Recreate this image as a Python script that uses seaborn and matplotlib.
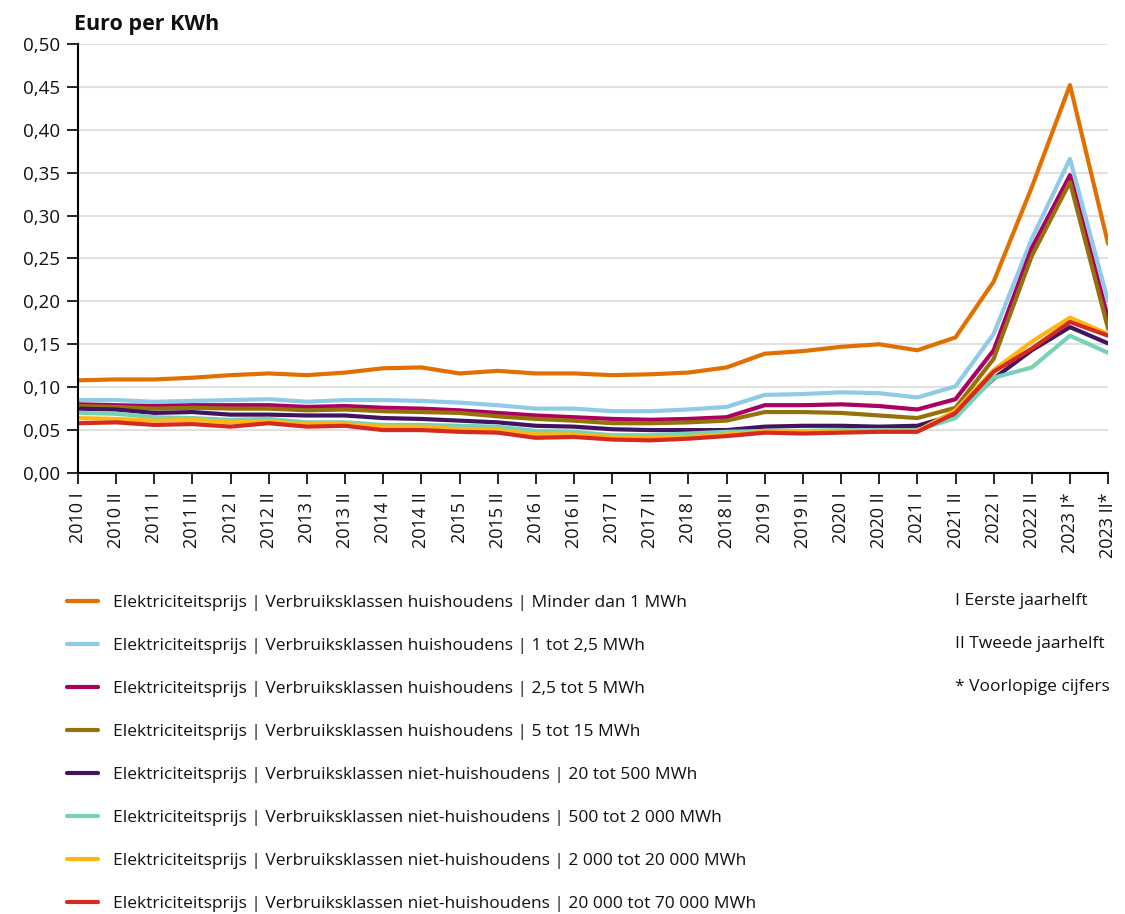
import matplotlib
matplotlib.use("Agg")
import matplotlib.pyplot as plt
import seaborn as sns
import numpy as np
import pandas as pd

sns.set_theme(style="white")
plt.rcParams["font.family"] = ["Open Sans", "DejaVu Sans"]
plt.rcParams["text.color"] = "#111111"
plt.rcParams["xtick.color"] = "#111111"
plt.rcParams["ytick.color"] = "#111111"

periods = ["2010 I", "2010 II", "2011 I", "2011 II", "2012 I", "2012 II", "2013 I", "2013 II",
           "2014 I", "2014 II", "2015 I", "2015 II", "2016 I", "2016 II", "2017 I", "2017 II",
           "2018 I", "2018 II", "2019 I", "2019 II", "2020 I", "2020 II", "2021 I", "2021 II",
           "2022 I", "2022 II", "2023 I*", "2023 II*"]

prefix_h = "Elektriciteitsprijs | Verbruiksklassen huishoudens | "
prefix_n = "Elektriciteitsprijs | Verbruiksklassen niet-huishoudens | "
series_names = [prefix_h + "Minder dan 1 MWh",
                prefix_h + "1 tot 2,5 MWh",
                prefix_h + "2,5 tot 5 MWh",
                prefix_h + "5 tot 15 MWh",
                prefix_n + "20 tot 500 MWh",
                prefix_n + "500 tot 2 000 MWh",
                prefix_n + "2 000 tot 20 000 MWh",
                prefix_n + "20 000 tot 70 000 MWh"]

minder_1 = [0.108, 0.109, 0.109, 0.111, 0.114, 0.116, 0.114, 0.117, 0.122, 0.123, 0.116, 0.119, 0.116, 0.116,
            0.114, 0.115, 0.117, 0.123, 0.139, 0.142, 0.147, 0.150, 0.143, 0.158, 0.223, 0.333, 0.452, 0.267]
tot_2_5 = [0.085, 0.085, 0.083, 0.084, 0.085, 0.086, 0.083, 0.085, 0.085, 0.084, 0.082, 0.079, 0.075, 0.075,
           0.072, 0.072, 0.074, 0.077, 0.091, 0.092, 0.094, 0.093, 0.088, 0.101, 0.162, 0.273, 0.366, 0.200]
tot_5 = [0.080, 0.079, 0.078, 0.079, 0.079, 0.079, 0.077, 0.078, 0.076, 0.075, 0.073, 0.070, 0.067, 0.065,
         0.063, 0.062, 0.063, 0.065, 0.079, 0.079, 0.080, 0.078, 0.074, 0.086, 0.143, 0.262, 0.347, 0.180]
tot_15 = [0.078, 0.077, 0.075, 0.076, 0.075, 0.075, 0.073, 0.074, 0.072, 0.071, 0.070, 0.066, 0.063, 0.061,
          0.058, 0.058, 0.059, 0.061, 0.071, 0.071, 0.070, 0.067, 0.064, 0.076, 0.133, 0.253, 0.339, 0.168]
tot_500 = [0.075, 0.074, 0.070, 0.071, 0.068, 0.068, 0.067, 0.067, 0.064, 0.063, 0.061, 0.059, 0.055, 0.054,
           0.051, 0.050, 0.050, 0.050, 0.054, 0.055, 0.055, 0.054, 0.055, 0.068, 0.110, 0.143, 0.170, 0.151]
tot_2000 = [0.070, 0.069, 0.065, 0.064, 0.062, 0.063, 0.059, 0.059, 0.056, 0.056, 0.055, 0.054, 0.049, 0.048,
            0.044, 0.044, 0.046, 0.048, 0.049, 0.049, 0.050, 0.050, 0.050, 0.064, 0.111, 0.123, 0.160, 0.140]
tot_20000 = [0.064, 0.063, 0.061, 0.062, 0.059, 0.060, 0.057, 0.057, 0.054, 0.054, 0.051, 0.050, 0.045, 0.045,
             0.042, 0.041, 0.042, 0.045, 0.048, 0.048, 0.048, 0.049, 0.049, 0.073, 0.120, 0.153, 0.181, 0.162]
tot_70000 = [0.058, 0.059, 0.056, 0.057, 0.054, 0.058, 0.054, 0.055, 0.050, 0.050, 0.048, 0.047, 0.041, 0.042,
             0.039, 0.038, 0.040, 0.043, 0.047, 0.046, 0.047, 0.048, 0.048, 0.070, 0.118, 0.145, 0.176, 0.160]

colors = ["#E17000", "#8FCAE7", "#A90061", "#94710A", "#42145F", "#76D2B6", "#FFB612", "#D52B1E"]
notes = ["I Eerste jaarhelft", "II Tweede jaarhelft", "* Voorlopige cijfers"]

all_values = [minder_1, tot_2_5, tot_5, tot_15, tot_500, tot_2000, tot_20000, tot_70000]
df = pd.concat([pd.DataFrame({"idx": range(len(periods)), "prijs": vals, "reeks": name})
                for name, vals in zip(series_names, all_values)], ignore_index=True)

fig = plt.figure(figsize=(11.25, 9.14), dpi=100)
ax = fig.add_axes([0.0693, 0.4825, 0.9157, 0.4695])

sns.lineplot(data=df, x="idx", y="prijs", hue="reeks", hue_order=series_names,
             palette=colors, linewidth=3.0, sort=False, ax=ax, legend=True)

ax.set_xlim(0, len(periods) - 1)
ax.set_ylim(0, 0.5)
yt = np.arange(0, 0.501, 0.05)
ax.set_yticks(yt)
ax.set_yticklabels([f"{v:.2f}".replace(".", ",") for v in yt], fontsize=13.5)
ax.set_xticks(range(len(periods)))
ax.set_xticklabels(periods, rotation=90, fontsize=13)
ax.set_xlabel(""); ax.set_ylabel("")
ax.yaxis.grid(True, color="#e1e1e1", linewidth=1.5)
ax.set_axisbelow(True)
for s in ["top", "right"]:
    ax.spines[s].set_visible(False)
for s in ["left", "bottom"]:
    ax.spines[s].set_color("black")
    ax.spines[s].set_linewidth(1.5)
ax.tick_params(axis="both", direction="out", length=8, width=1.2, color="black")
ax.tick_params(axis="x", pad=6)
ax.tick_params(axis="y", pad=5)
ax.tick_params(axis="both", which="both", bottom=True, left=True)

fig.text(0.066, 0.962, "Euro per KWh", fontsize=15.5, fontweight="bold", ha="left", va="bottom")

handles, labels = ax.get_legend_handles_labels()
ax.get_legend().remove()
fig.legend(handles, labels, loc="upper left", bbox_to_anchor=(0.052, 0.359), frameon=False,
           fontsize=12.5, handlelength=1.8, handletextpad=0.85, labelspacing=1.55, borderpad=0)

for i, note in enumerate(notes):
    fig.text(0.849, 1 - (601 + 43 * i) / 914, note, fontsize=12.5, ha="left", va="center")

fig.savefig("out.png", dpi=100)
